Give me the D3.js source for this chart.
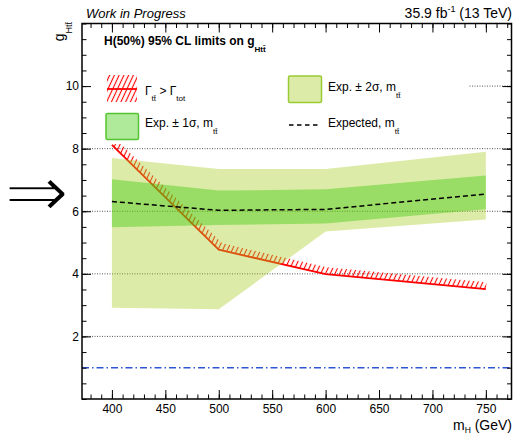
<!DOCTYPE html>
<html><head><meta charset="utf-8">
<script src="https://cdn.jsdelivr.net/npm/d3@7"></script>
<style>
body{margin:0;background:#fff}
svg{display:block}
text{font-family:"Liberation Sans",Arial,Helvetica,sans-serif}
</style>
</head><body>
<svg id="c" width="514" height="435"></svg>
<script>
// ---- data ----
const masses     = [400, 500, 600, 750];
const expected   = [6.31, 6.03, 6.06, 6.55];
const sigma1Lo   = [5.49, 5.56, 5.61, 6.06];
const sigma1Hi   = [7.02, 6.66, 6.70, 7.14];
const sigma2Lo   = [2.92, 2.87, 5.35, 5.74];
const sigma2Hi   = [7.70, 7.35, 7.35, 7.90];
const widthLimit = [8.12, 4.77, 3.99, 3.51];
const refLevel   = 1;
const xMajorTicks = [400, 450, 500, 550, 600, 650, 700, 750];
const xMinorTicks = d3.range(380, 771, 10);
const yMajorTicks = [2, 4, 6, 8, 10];
const yMinorTicks = d3.range(0, 12.01, 0.5);
const gridLevels  = [2, 4, 6, 8, 10];

const svg = d3.select("#c");
const L = 82, R = 511.5, T = 23.5, B = 399;
const x = d3.scaleLinear().domain([372, 774]).range([L, R]);
const y = d3.scaleLinear().domain([0, 12]).range([B, T]);

const c2 = "rgba(167,207,37,0.4)";
const c1 = "rgba(55,201,3,0.4)";

const defs = svg.append("defs");
defs.append("clipPath").attr("id","plotclip").append("rect")
  .attr("x",L).attr("y",T).attr("width",R-L).attr("height",B-T);
const pat = defs.append("pattern").attr("id","hatch")
  .attr("patternUnits","userSpaceOnUse").attr("width",4.3).attr("height",10)
  .attr("patternTransform","rotate(25)");
pat.append("line").attr("x1",2.15).attr("x2",2.15).attr("y1",-1).attr("y2",11)
  .attr("stroke","#ff0000").attr("stroke-width",1.1);

// grid
const gGrid = svg.append("g");
gridLevels.forEach(v=>{
  gGrid.append("line").attr("x1",L).attr("x2",R).attr("y1",y(v)).attr("y2",y(v))
    .attr("stroke","#555").attr("stroke-width",1).attr("stroke-dasharray","1,1.5");
});
// reference line
svg.append("line").attr("x1",L).attr("x2",R).attr("y1",y(refLevel)).attr("y2",y(refLevel))
  .attr("stroke","#2f55d4").attr("stroke-width",1.5).attr("stroke-dasharray","7,3,1.5,3");

// hatched width limit
const plot = svg.append("g").attr("clip-path","url(#plotclip)");
const redPts = masses.map((m,i)=>[x(m), y(widthLimit[i])]);
function offsetPoly(pts, w){
  const n = pts.length, segN = [];
  for(let i=0;i<n-1;i++){
    const dx=pts[i+1][0]-pts[i][0], dy=pts[i+1][1]-pts[i][1], l=Math.hypot(dx,dy);
    segN.push([dy/l, -dx/l]);
  }
  const off = pts.map((p,i)=>{
    let nx,ny,k=1;
    if(i===0){[nx,ny]=segN[0];}
    else if(i===n-1){[nx,ny]=segN[n-2];}
    else{
      const a=segN[i-1], b=segN[i];
      let sx=a[0]+b[0], sy=a[1]+b[1]; const l=Math.hypot(sx,sy); sx/=l; sy/=l;
      k = 1/(sx*a[0]+sy*a[1]); nx=sx; ny=sy;
    }
    return [p[0]+nx*w*k, p[1]+ny*w*k];
  });
  return pts.concat(off.reverse());
}
plot.append("path").attr("d", d3.line()(offsetPoly(redPts, 7)) + "Z")
  .attr("fill","url(#hatch)").attr("stroke","none");
plot.append("path").attr("d", d3.line()(redPts))
  .attr("fill","none").attr("stroke","#ff0000").attr("stroke-width",1.8);

// bands
const area2 = d3.area().x((d,i)=>x(masses[i])).y0((d,i)=>y(sigma2Lo[i])).y1((d,i)=>y(sigma2Hi[i]));
const area1 = d3.area().x((d,i)=>x(masses[i])).y0((d,i)=>y(sigma1Lo[i])).y1((d,i)=>y(sigma1Hi[i]));
plot.append("path").datum(masses).attr("d",area2).attr("fill",c2);
plot.append("path").datum(masses).attr("d",area1).attr("fill",c1);
// expected
plot.append("path").datum(masses)
  .attr("d", d3.line().x((d,i)=>x(masses[i])).y((d,i)=>y(expected[i])))
  .attr("fill","none").attr("stroke","#000").attr("stroke-width",1.5).attr("stroke-dasharray","5,3");

// legend
svg.append("rect").attr("x",L+1).attr("y",30).attr("width",386).attr("height",114).attr("fill","#fff");

function rich(g, xx, yy, parts, size, opts={}){
  const t = g.append("text").attr("x",xx).attr("y",yy).attr("font-size",size);
  if(opts.weight) t.attr("font-weight",opts.weight);
  if(opts.style) t.attr("font-style",opts.style);
  if(opts.anchor) t.attr("text-anchor",opts.anchor);
  let shift = 0;
  parts.forEach(p=>{
    const ts = t.append("tspan").text(p.t);
    const target = p.sub ? p.sub : (p.sup ? -p.sup : 0);
    if(target!==shift){ ts.attr("dy", target-shift); shift = target; }
    if(p.size) ts.attr("font-size", p.size);
  });
  return t;
}

const leg = svg.append("g");
rich(leg, 104, 45, [{t:"H(50%) 95% CL limits on g"},{t:"Htt\u0304",sub:6.5,size:8}], 12, {weight:"bold"});
// entry: width limit
leg.append("rect").attr("x",107).attr("y",75).attr("width",30).attr("height",27).attr("fill","url(#hatch)");
leg.append("line").attr("x1",107).attr("x2",137).attr("y1",89).attr("y2",89).attr("stroke","#ff0000").attr("stroke-width",1.8);
rich(leg, 145, 95, [{t:"\u0393"},{t:"tt\u0304",sub:6,size:8},{t:" > \u0393"},{t:"tot",sub:6,size:8}], 12);
// entry 2 sigma
leg.append("rect").attr("x",288.5).attr("y",76).attr("width",33).attr("height",26.5).attr("rx",1.5)
  .attr("fill",c2).attr("stroke","#99cc33").attr("stroke-width",1.5);
rich(leg, 328, 91, [{t:"Exp. \u00b1 2\u03c3, m"},{t:"tt\u0304",sub:6.5,size:8}], 12);
// entry 1 sigma
leg.append("rect").attr("x",106).attr("y",113.5).attr("width",32.5).attr("height",26).attr("rx",1.5)
  .attr("fill",c1).attr("stroke","#55c433").attr("stroke-width",1.5);
rich(leg, 145, 127, [{t:"Exp. \u00b1 1\u03c3, m"},{t:"tt\u0304",sub:6.5,size:8}], 12);
// entry expected
leg.append("line").attr("x1",289).attr("x2",318).attr("y1",125).attr("y2",125)
  .attr("stroke","#000").attr("stroke-width",1.5).attr("stroke-dasharray","4.5,3.5");
rich(leg, 328, 127, [{t:"Expected, m"},{t:"tt\u0304",sub:6.5,size:8}], 12);

// axes
function styleAxis(g){ g.select(".domain").remove(); g.selectAll("line").attr("stroke","#000").attr("stroke-width",1);
  g.selectAll("text").attr("font-family","'Liberation Sans',Arial,sans-serif").attr("font-size",12).attr("fill","#000"); }
svg.append("g").attr("transform",`translate(0,${B})`).call(d3.axisBottom(x).tickValues(xMajorTicks).tickSize(-9).tickPadding(5).tickFormat(d3.format("d"))).call(styleAxis);
svg.append("g").attr("transform",`translate(0,${B})`).call(d3.axisBottom(x).tickValues(xMinorTicks).tickSize(-4.5).tickFormat("")).call(styleAxis);
svg.append("g").attr("transform",`translate(0,${T})`).call(d3.axisTop(x).tickValues(xMajorTicks).tickSize(-9).tickFormat("")).call(styleAxis);
svg.append("g").attr("transform",`translate(0,${T})`).call(d3.axisTop(x).tickValues(xMinorTicks).tickSize(-4.5).tickFormat("")).call(styleAxis);
svg.append("g").attr("transform",`translate(${L},0)`).call(d3.axisLeft(y).tickValues(yMajorTicks).tickSize(-9).tickPadding(3).tickFormat(d3.format("d"))).call(styleAxis);
svg.append("g").attr("transform",`translate(${L},0)`).call(d3.axisLeft(y).tickValues(yMinorTicks).tickSize(-4.5).tickFormat("")).call(styleAxis);
svg.append("g").attr("transform",`translate(${R},0)`).call(d3.axisRight(y).tickValues(yMajorTicks).tickSize(-9).tickFormat("")).call(styleAxis);
svg.append("g").attr("transform",`translate(${R},0)`).call(d3.axisRight(y).tickValues(yMinorTicks).tickSize(-4.5).tickFormat("")).call(styleAxis);
svg.append("rect").attr("x",L).attr("y",T).attr("width",R-L).attr("height",B-T)
  .attr("fill","none").attr("stroke","#000").attr("stroke-width",1.5);

// titles
rich(svg, 86, 18, [{t:"Work in Progress"}], 13, {style:"italic"});
rich(svg, 512, 17.5, [{t:"35.9 fb"},{t:"-1",sup:5.5,size:9},{t:" (13 TeV)"}], 14, {anchor:"end"});
rich(svg, 512, 430, [{t:"m"},{t:"H",sub:3,size:8.5},{t:" (GeV)"}], 14, {anchor:"end"});
const yt = svg.append("g").attr("transform","translate(64,22) rotate(-90)");
rich(yt, 0, 0, [{t:"g"},{t:"Htt\u0304",sub:8,size:9}], 14, {anchor:"end"});

// arrow
svg.append("text").attr("transform","translate(37,191) scale(1.12,1.05)")
  .attr("text-anchor","middle").attr("dominant-baseline","central")
  .attr("font-family","'DejaVu Sans',sans-serif").attr("font-size",70).attr("fill","#000")
  .attr("stroke","#fff").attr("stroke-width",2).text("\u21d2");
</script>
</body></html>
